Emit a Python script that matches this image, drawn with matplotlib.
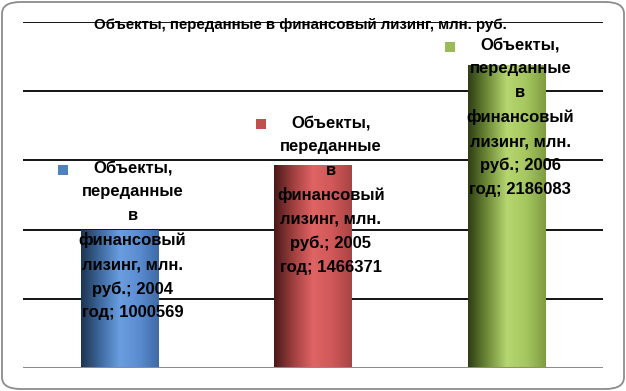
import numpy as np
import matplotlib
matplotlib.use("Agg")
import matplotlib.pyplot as plt
from matplotlib.patches import FancyBboxPatch
from matplotlib.colors import LinearSegmentedColormap

title = "Объекты, переданные в финансовый лизинг, млн. руб."
series_name = "Объекты,\nпереданные\nв\nфинансовый\nлизинг, млн.\nруб."
years = ["2004", "2005", "2006"]
values = [1000569, 1466371, 2186083]
y_ticks = [0, 500000, 1000000, 1500000, 2000000, 2500000]

# style
key_colors = ["#4f81bd", "#c0504d", "#9bbb59"]
grad_colors = [
    ["#1c3450", "#3f6aa0", "#6a9ee0", "#5b8cd0", "#3e6aa6"],
    ["#4a1818", "#a04040", "#e06464", "#d05858", "#a84444"],
    ["#2e3d14", "#6f8c38", "#b6d670", "#a6c660", "#7f9c40"],
]
label_off = [(13, -11), (18, -30), (14, -52)]  # pixel offsets of label blocks

plt.rcParams['font.family'] = ['Liberation Sans', 'DejaVu Sans']

W, H = 626, 391
fig = plt.figure(figsize=(W / 100, H / 100), dpi=100)
ax = fig.add_axes([23 / W, 1 - 368 / H, 580 / W, (368 - 22) / H])

x = np.arange(len(values))
bars = ax.bar(x, values, width=0.4, color="none", edgecolor="none", zorder=2)

for b, cols in zip(bars, grad_colors):
    cmap = LinearSegmentedColormap.from_list("g", cols)
    grad = np.linspace(0, 1, 256).reshape(1, -1)
    im = ax.imshow(grad, cmap=cmap, aspect="auto", zorder=2,
                   extent=(b.get_x(), b.get_x() + b.get_width(), 0, b.get_height()))
    im.set_clip_path(b)

ax.set_xlim(-0.5, len(values) - 0.5)
ax.set_ylim(y_ticks[0], y_ticks[-1])

for t in y_ticks[1:]:
    ax.axhline(t, color="black", lw=1.3, zorder=1)
ax.axhline(0, color="#8c8c8c", lw=2.2, zorder=3)

for s in ax.spines.values():
    s.set_visible(False)
ax.set_xticks([])
ax.set_yticks([])
ax.patch.set_alpha(0)

fs = 12
for i, (v, yr) in enumerate(zip(values, years)):
    txt = f"{series_name}; {yr}\nгод; {v}"
    dx, dy = label_off[i]
    ax.annotate(txt, xy=(x[i], v), xytext=(dx, dy), textcoords="offset pixels",
                ha="center", va="center", fontsize=fs, fontweight="bold",
                linespacing=1.72, zorder=4, color="black")

# legend keys beside the first line of each label
fig.canvas.draw()
renderer = fig.canvas.get_renderer()
for i, ann in enumerate(list(ax.texts)):
    bb = ann.get_window_extent(renderer)
    kx = bb.x0 + bb.width / 2 - 70
    ky = bb.y1 - 9
    fig.patches.append(plt.Rectangle(((kx - 5) / W, (ky - 5) / H), 10 / W, 10 / H,
                                     transform=fig.transFigure, facecolor=key_colors[i],
                                     edgecolor="none", zorder=5))

fig.text(300 / W, 1 - 25 / H, title, ha="center", va="center",
         fontsize=10.8, fontweight="bold", zorder=6)

border = FancyBboxPatch((2 / W, 2 / H), (W - 4) / W, (H - 4) / H,
                        boxstyle="round,pad=0,rounding_size=0.03",
                        transform=fig.transFigure, facecolor="none",
                        edgecolor="#8c8c8c", lw=1.3)
fig.patches.append(border)

fig.savefig("out.png", dpi=100)
